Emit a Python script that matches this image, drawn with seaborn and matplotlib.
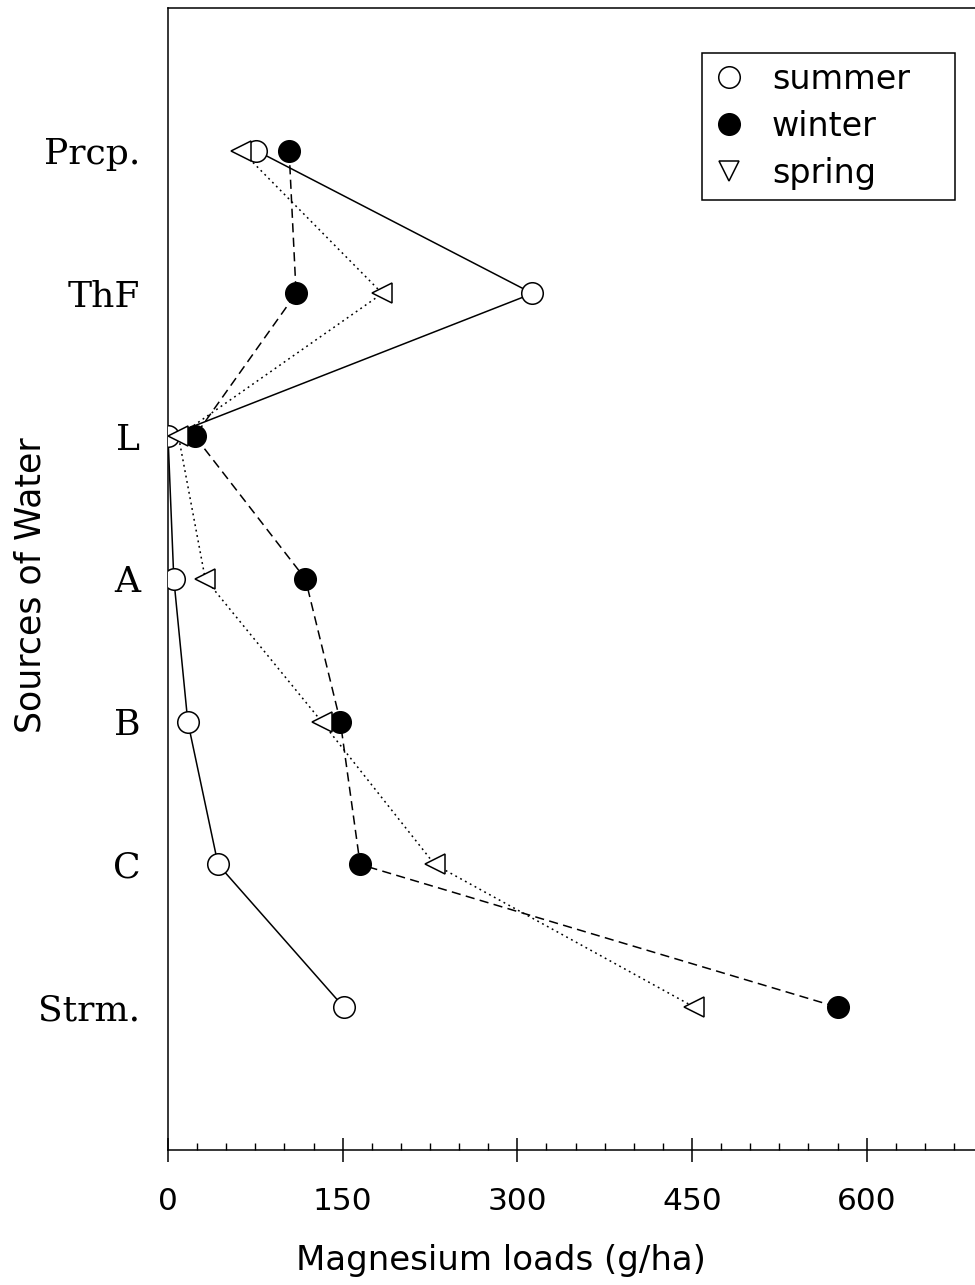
import matplotlib
matplotlib.use("Agg")
import matplotlib.pyplot as plt
import seaborn as sns
import pandas as pd
from matplotlib.lines import Line2D
from matplotlib.ticker import MultipleLocator, FixedLocator

# ---- data ----
sources = ["Prcp.", "ThF", "L", "A", "B", "C", "Strm."]
summer = [76, 313, 0, 5, 17, 43, 151]
winter = [104, 110, 23, 118, 148, 165, 575]
spring = [63, 184, 9, 32, 132, 229, 452]
xtick_values = [0, 150, 300, 450, 600]
season_names = ["summer", "winter", "spring"]

sns.set_theme(style="ticks")
plt.rcParams["font.family"] = ["DejaVu Sans"]
for k in ["text.color", "axes.labelcolor", "xtick.color", "ytick.color",
          "axes.edgecolor"]:
    plt.rcParams[k] = "black"

fig = plt.figure(figsize=(9.75, 12.85), dpi=100)
ax = fig.add_axes([0.1723, 0.1051, 0.8277, 0.8887])

pos = list(range(1, len(sources) + 1))
df = pd.DataFrame({"source": sources, "pos": pos,
                   "summer": summer, "winter": winter, "spring": spring})

lw = 1.1
styles = {
    "summer": dict(linestyle="-", marker="o", markersize=15.5,
                   markerfacecolor="white", zorder=3),
    "winter": dict(linestyle=(0, (6, 3.5)), marker="o", markersize=15.5,
                   markerfacecolor="black", zorder=4),
    "spring": dict(linestyle=(0, (1.2, 2.4)), marker="<", markersize=14,
                   markerfacecolor="white", zorder=5),
}
for s in season_names:
    sns.lineplot(data=df, x=s, y="pos", sort=False, estimator=None, ax=ax,
                 color="black", linewidth=lw, markeredgecolor="black",
                 markeredgewidth=1.1, **styles[s])

ax.set_xlim(0, 693)
ax.set_ylim(8, 0)
ax.set_yticks(pos)
ax.set_yticklabels(sources, fontfamily="DejaVu Serif", fontsize=26)
ax.xaxis.set_major_locator(FixedLocator(xtick_values))
ax.xaxis.set_minor_locator(MultipleLocator(25))
ax.set_xticklabels([str(v) for v in xtick_values], fontsize=22.5)

ax.tick_params(axis="y", length=0, pad=20)
ax.tick_params(axis="x", which="major", direction="inout", length=17,
               width=1.1, pad=18, color="black")
ax.tick_params(axis="x", which="minor", direction="in", length=5,
               width=1.0, color="black")

for side in ["left", "top", "bottom"]:
    ax.spines[side].set_visible(True)
    ax.spines[side].set_linewidth(1.1)
    ax.spines[side].set_color("black")
ax.spines["right"].set_visible(False)

ax.set_xlabel("Magnesium loads (g/ha)", fontsize=24.5)
ax.xaxis.set_label_coords(0.4126, -0.082)
ax.set_ylabel("Sources of Water", fontsize=25)
ax.yaxis.set_label_coords(-0.149, 0.495)

handles = [
    Line2D([], [], linestyle="none", marker="o", markersize=15.5,
           markerfacecolor="white", markeredgecolor="black", markeredgewidth=1.1),
    Line2D([], [], linestyle="none", marker="o", markersize=15.5,
           markerfacecolor="black", markeredgecolor="black", markeredgewidth=1.1),
    Line2D([], [], linestyle="none", marker="v", markersize=14,
           markerfacecolor="white", markeredgecolor="black", markeredgewidth=1.1),
]
leg = ax.legend(handles, season_names, loc="upper left",
                bbox_to_anchor=(0.6617, 0.80, 0.3135, 0.1606), mode="expand",
                borderaxespad=0, fontsize=24, frameon=True, fancybox=False,
                edgecolor="black", framealpha=1, handlelength=1.0,
                handletextpad=0.8, labelspacing=0.42, borderpad=0.3)
leg.get_frame().set_linewidth(1.1)

fig.savefig("out.png", dpi=100)
